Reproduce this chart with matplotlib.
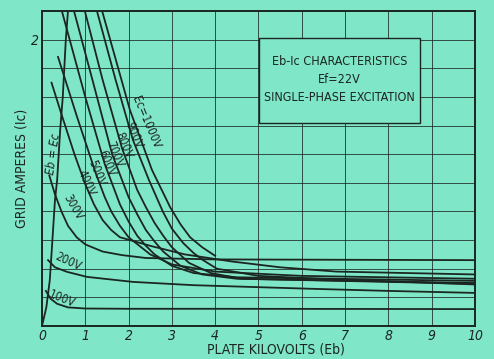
import matplotlib
matplotlib.use("Agg")
import matplotlib.pyplot as plt
from matplotlib.patches import Rectangle

# Eb = Ec boundary line
eb_ec_x = [0.0, 0.1, 0.18, 0.23, 0.3, 0.35, 0.42, 0.48, 0.55, 0.6]
eb_ec_y = [0.0, 0.13, 0.32, 0.55, 0.88, 1.02, 1.37, 1.6, 2.0, 2.2]

# grid current curves, plate kV vs grid amperes
ec100_x = [0.09, 0.2, 0.35, 0.6, 1.0, 2.0, 4.0, 10.0]
ec100_y = [0.245, 0.19, 0.155, 0.13, 0.122, 0.12, 0.12, 0.118]

ec200_x = [0.14, 0.3, 0.58, 1.04, 2.1, 3.5, 4.8, 6.2, 8.0, 10.0]
ec200_y = [0.46, 0.41, 0.378, 0.343, 0.308, 0.285, 0.273, 0.26, 0.245, 0.231]

ec300_x = [0.17, 0.3, 0.45, 0.6, 0.8, 1.0, 1.4, 1.85, 2.4, 4.0, 10.0]
ec300_y = [1.05, 0.92, 0.8, 0.7, 0.62, 0.57, 0.52, 0.495, 0.475, 0.465, 0.46]

ec400_x = [0.22, 0.46, 0.75, 1.0, 1.2, 1.4, 1.6, 1.8, 2.5, 3.3, 4.4, 5.5, 6.8, 10.0]
ec400_y = [1.70, 1.47, 1.2, 0.99, 0.85, 0.74, 0.67, 0.62, 0.56, 0.5, 0.45, 0.41, 0.38, 0.36]

ec500_x = [0.37, 0.8, 1.25, 1.45, 1.6, 1.8, 2.0, 2.5, 3.0, 4.0, 6.0, 10.0]
ec500_y = [1.88, 1.47, 1.06, 0.9, 0.8, 0.7, 0.62, 0.5, 0.43, 0.38, 0.35, 0.33]

ec600_x = [0.46, 1.0, 1.45, 1.8, 2.0, 2.2, 2.4, 2.6, 3.0, 3.5, 4.5, 10.0]
ec600_y = [2.2, 1.6, 1.13, 0.85, 0.73, 0.63, 0.56, 0.5, 0.42, 0.37, 0.34, 0.315]

ec700_x = [0.74, 1.2, 1.62, 2.0, 2.2, 2.4, 2.6, 2.8, 3.2, 3.7, 4.5, 10.0]
ec700_y = [2.2, 1.68, 1.2, 0.9, 0.78, 0.67, 0.59, 0.52, 0.42, 0.36, 0.33, 0.30]

ec800_x = [0.99, 1.4, 1.85, 2.2, 2.4, 2.6, 2.8, 3.0, 3.4, 3.9, 4.6, 10.0]
ec800_y = [2.2, 1.72, 1.24, 0.95, 0.83, 0.72, 0.63, 0.55, 0.44, 0.37, 0.33, 0.295]

ec900_x = [1.27, 1.7, 2.1, 2.47, 2.79, 3.0, 3.26, 3.5, 3.72, 4.04, 5.0, 6.4, 10.0]
ec900_y = [2.2, 1.72, 1.3, 1.02, 0.8, 0.68, 0.58, 0.51, 0.46, 0.4, 0.35, 0.33, 0.29]

ec1000_x = [1.39, 2.03, 2.54, 2.96, 3.2, 3.42, 3.7, 4.0]
ec1000_y = [2.2, 1.51, 1.09, 0.83, 0.71, 0.62, 0.55, 0.49]

curve_x = [ec100_x, ec200_x, ec300_x, ec400_x, ec500_x,
           ec600_x, ec700_x, ec800_x, ec900_x, ec1000_x]
curve_y = [ec100_y, ec200_y, ec300_y, ec400_y, ec500_y,
           ec600_y, ec700_y, ec800_y, ec900_y, ec1000_y]

x_ticks = list(range(0, 11))
y_grid = [0.0, 0.2, 0.4, 0.6, 0.8, 1.0, 1.2, 1.4, 1.6, 1.8, 2.0, 2.2]

bg = '#80e6c8'
ink = '#1b2621'

plt.rcParams['font.family'] = ['DejaVu Sans']
plt.rcParams['font.stretch'] = 'condensed'

fig = plt.figure(figsize=(4.94, 3.59), dpi=100, facecolor=bg)
ax = fig.add_axes([0.085, 0.092, 0.8765, 0.877])
ax.set_facecolor(bg)

ax.set_xlim(0, 10)
ax.set_ylim(0, 2.2)
ax.set_xticks(x_ticks)
ax.set_xticklabels([str(t) for t in x_ticks], fontstyle='italic', fontsize=10)
ax.set_yticks(y_grid)
ax.set_yticklabels(['2' if abs(v - 2.0) < 1e-6 else '' for v in y_grid],
                   fontstyle='italic', fontsize=10)
ax.tick_params(length=0, colors=ink, pad=2)
ax.grid(True, color=ink, linewidth=0.7, alpha=0.8)
for s in ax.spines.values():
    s.set_color(ink)
    s.set_linewidth(1.4)

ax.plot(eb_ec_x, eb_ec_y, color=ink, linewidth=1.3)
for xs, ys in zip(curve_x, curve_y):
    ax.plot(xs, ys, color=ink, linewidth=1.3)

# curve labels
lab = dict(color=ink, fontsize=8.5, ha='center', va='center')
ax.text(0.27, 1.2, 'Eb = Ec', rotation=82, fontstyle='italic', **lab)
ax.text(0.45, 0.19, '100V', rotation=-22, **lab)
ax.text(0.6, 0.45, '200V', rotation=-25, **lab)
ax.text(0.72, 0.83, '300V', rotation=-60, **lab)
ax.text(1.02, 1.0, '400V', rotation=-65, **lab)
ax.text(1.27, 1.07, '500V', rotation=-67, **lab)
ax.text(1.49, 1.14, '600V', rotation=-67, **lab)
ax.text(1.68, 1.2, '700V', rotation=-67, **lab)
ax.text(1.89, 1.26, '800V', rotation=-67, **lab)
ax.text(2.12, 1.33, '900V', rotation=-67, **lab)
ax.text(2.4, 1.42, 'Ec=1000V', rotation=-67, **lab)

# title box
ax.add_patch(Rectangle((5.01, 1.42), 3.72, 0.59, fc=bg, ec=ink, lw=1.0, zorder=3))
ax.text(6.87, 1.72, 'Eb-Ic CHARACTERISTICS\nEf=22V\nSINGLE-PHASE EXCITATION',
        ha='center', va='center', fontsize=9.0, color=ink, linespacing=1.5,
        multialignment='center', zorder=4)

ax.set_ylabel('GRID AMPERES (Ic)', color=ink, fontsize=10, labelpad=2)
ax.set_xlabel('PLATE KILOVOLTS (Eb)', color=ink, fontsize=10)
ax.xaxis.set_label_coords(0.54, -0.052)

fig.savefig('out.png', dpi=100, facecolor=bg)
